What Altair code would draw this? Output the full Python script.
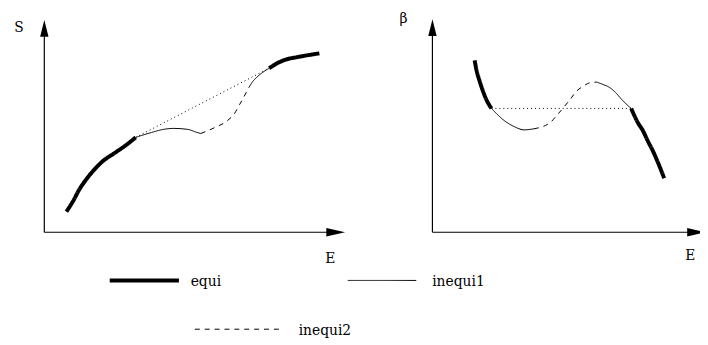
import altair as alt
import pandas as pd

# ---------------- data ----------------
# Left panel: S as a function of E
L_EQUI1_E = [7.3, 9.6, 11.5, 13.5, 15.8, 19.0, 23.6, 26.9, 30.2]
L_EQUI1_S = [10.1, 15.5, 20.8, 25.2, 29.5, 34.4, 39.2, 42.6, 46.5]
L_INEQ1A_E = [30.2, 35.4, 39.3, 42.6, 47.5, 50.1, 51.7]
L_INEQ1A_S = [46.5, 48.9, 50.4, 50.9, 50.4, 49.1, 48.4]
L_INEQ2_E = [51.7, 56.3, 60.5, 62.8, 64.5, 66.1, 67.7]
L_INEQ2_S = [48.4, 51.3, 54.7, 58.1, 62.5, 66.8, 71.2]
L_INEQ1B_E = [67.7, 69.0, 70.3, 72.3, 74.3]
L_INEQ1B_S = [71.2, 74.1, 76.1, 78.5, 80.4]
L_EQUI2_E = [74.3, 76.9, 80.1, 83.4, 86.7, 90.9]
L_EQUI2_S = [80.4, 82.8, 84.8, 85.8, 86.7, 87.7]
L_TIE_E = [30.2, 74.3]
L_TIE_S = [46.5, 80.4]

# Right panel: beta as a function of E
R_EQUI1_E = [16.0, 16.8, 17.9, 19.0, 20.5, 22.4]
R_EQUI1_B = [84.3, 79.0, 74.1, 69.8, 64.9, 60.7]
R_INEQ1A_E = [22.4, 27.3, 31.0, 34.8, 38.5]
R_INEQ1A_B = [60.7, 54.7, 51.8, 50.2, 50.7]
R_INEQ2_E = [38.5, 44.8, 47.1, 49.8, 52.4, 54.8, 57.3, 59.8, 62.3]
R_INEQ2_B = [50.7, 53.9, 57.2, 61.2, 65.4, 69.3, 71.7, 73.3, 73.6]
R_INEQ1B_E = [62.3, 64.8, 67.3, 69.6, 72.3, 75.4]
R_INEQ1B_B = [73.6, 72.4, 70.9, 68.3, 64.4, 60.7]
R_EQUI2_E = [75.4, 77.9, 79.8, 81.6, 83.5, 85.8, 87.9]
R_EQUI2_B = [60.7, 53.8, 49.9, 45.0, 40.2, 33.4, 26.5]
R_TIE_E = [22.4, 75.4]
R_TIE_B = [60.7, 60.7]

LEGEND_LABELS = ["equi", "inequi1", "inequi2"]
KINDS = ["equi", "inequi1", "inequi2", "tie"]

# ---------------- layout / style ----------------
FONT = "DejaVu Serif"
FS = 14
UP = "M0,-1L0.5,1L-0.5,1Z"
RIGHT = "M1,0L-1,-0.45L-1,0.45Z"


def seg_frame(segments):
    rows = []
    for i, (kind, xs, ys) in enumerate(segments):
        for j, (x, y) in enumerate(zip(xs, ys)):
            rows.append({"seg": i, "kind": kind, "E": x, "v": y, "order": j})
    return pd.DataFrame(rows)


def panel(segments, ylabel, xdom, ydom, width, height,
          x_end, y_end, x_arrow, y_arrow, ylab_pos, xlab_pos, clip_right):
    xs = alt.Scale(domain=xdom, nice=False, zero=False)
    ys = alt.Scale(domain=ydom, nice=False, zero=False)

    def X(f):
        return alt.X(f, type="quantitative", scale=xs, axis=None)

    def Y(f):
        return alt.Y(f, type="quantitative", scale=ys, axis=None)

    df = seg_frame(segments)
    lines = alt.Chart(df).mark_line(interpolate="monotone", color="black").encode(
        x=X("E"), y=Y("v"), detail="seg:N", order="order:Q",
        strokeWidth=alt.StrokeWidth("kind:N", scale=alt.Scale(type="ordinal", domain=KINDS, range=[4, 1, 1, 1]), legend=None),
        strokeDash=alt.StrokeDash("kind:N", scale=alt.Scale(type="ordinal", domain=KINDS, range=[[1, 0], [1, 0], [5, 5], [1, 3]]), legend=None),
    )
    axes_df = pd.DataFrame({"x0": [0, 0], "y0": [0, 0], "x1": [x_end, 0], "y1": [0, y_end]})
    axes = alt.Chart(axes_df).mark_rule(color="black", strokeWidth=1.2, clip=clip_right).encode(
        x=X("x0"), y=Y("y0"), x2="x1:Q", y2="y1:Q")
    up = alt.Chart(pd.DataFrame({"x": [0], "y": [y_arrow]})).mark_point(
        shape=UP, size=289, filled=True, color="black", opacity=1).encode(x=X("x"), y=Y("y"))
    rt = alt.Chart(pd.DataFrame({"x": [x_arrow], "y": [0]})).mark_point(
        shape=RIGHT, size=361, filled=True, color="black", opacity=1, clip=clip_right).encode(x=X("x"), y=Y("y"))
    lab_df = pd.DataFrame({"x": [ylab_pos[0], xlab_pos[0]], "y": [ylab_pos[1], xlab_pos[1]],
                           "t": [ylabel, "E"]})
    labs = alt.Chart(lab_df).mark_text(font=FONT, fontSize=FS, color="black", baseline="middle").encode(
        x=X("x"), y=Y("y"), text="t:N")
    return alt.layer(lines, axes, up, rt, labs).properties(width=width, height=height)


left = panel(
    [("equi", L_EQUI1_E, L_EQUI1_S), ("inequi1", L_INEQ1A_E, L_INEQ1A_S),
     ("inequi2", L_INEQ2_E, L_INEQ2_S), ("inequi1", L_INEQ1B_E, L_INEQ1B_S),
     ("equi", L_EQUI2_E, L_EQUI2_S), ("tie", L_TIE_E, L_TIE_S)],
    "S", [-12, 103], [-18, 109], 352, 262,
    x_end=96.3, y_end=100, x_arrow=96.3, y_arrow=100,
    ylab_pos=(-8.4, 100.3), xlab_pos=(94.5, -13.1), clip_right=False)

right = panel(
    [("equi", R_EQUI1_E, R_EQUI1_B), ("inequi1", R_INEQ1A_E, R_INEQ1A_B),
     ("inequi2", R_INEQ2_E, R_INEQ2_B), ("inequi1", R_INEQ1B_E, R_INEQ1B_B),
     ("equi", R_EQUI2_E, R_EQUI2_B), ("tie", R_TIE_E, R_TIE_B)],
    "β", [-29, 101.5], [-18, 109], 348, 262,
    x_end=100.2, y_end=100.3, x_arrow=100.2, y_arrow=100.3,
    ylab_pos=(-11.0, 104.6), xlab_pos=(97.8, -11.7), clip_right=True)

# legend panel, laid out by hand
LEG_X0 = [14.7, 49.1, 27.0]
LEG_X1 = [24.7, 59.0, 39.3]
LEG_TX = [26.4, 61.3, 42.0]
LEG_Y = [8.45, 8.45, 1.87]
leg_df = pd.DataFrame({"label": LEGEND_LABELS, "x0": LEG_X0, "x1": LEG_X1, "tx": LEG_TX, "y": LEG_Y})
lxs = alt.Scale(domain=[0, 100], nice=False, zero=False)
lys = alt.Scale(domain=[0, 10], nice=False, zero=False)
leg_lines = alt.Chart(leg_df).mark_rule(color="black").encode(
    x=alt.X("x0:Q", scale=lxs, axis=None), x2="x1:Q", y=alt.Y("y:Q", scale=lys, axis=None),
    strokeWidth=alt.StrokeWidth("label:N", scale=alt.Scale(type="ordinal", domain=LEGEND_LABELS, range=[4.5, 1, 1]), legend=None),
    strokeDash=alt.StrokeDash("label:N", scale=alt.Scale(type="ordinal", domain=LEGEND_LABELS, range=[[1, 0], [1, 0], [5.6, 7.6]]), legend=None),
)
leg_text = alt.Chart(leg_df).mark_text(font=FONT, fontSize=FS, color="black", align="left", baseline="middle", dy=2).encode(
    x=alt.X("tx:Q", scale=lxs, axis=None), y=alt.Y("y:Q", scale=lys, axis=None), text="label:N")
legend = alt.layer(leg_lines, leg_text).properties(width=700, height=75)

chart = alt.vconcat(
    alt.hconcat(left, right, spacing=0),
    legend,
    spacing=0,
).properties(padding=0).configure_view(stroke=None)

chart.save("out.html", embed_options={"renderer": "svg", "actions": False})
